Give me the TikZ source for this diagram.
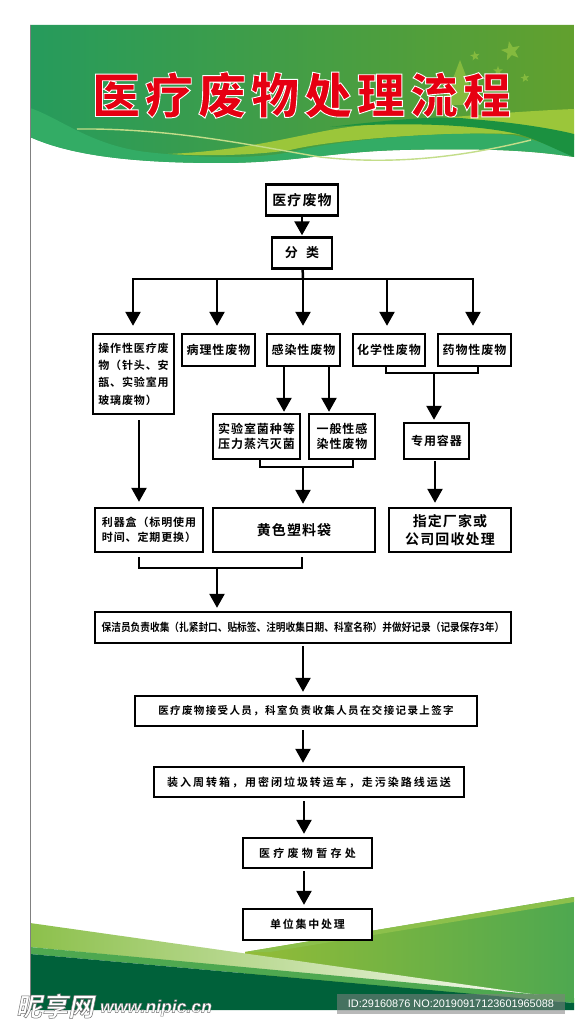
\documentclass[tikz,border=0pt]{standalone}
\usepackage{fontspec}
\usepackage{xcolor}
\setmainfont{Noto Sans CJK SC Bold}
\newfontfamily\titlefont[LetterSpace=10.4]{Noto Sans CJK SC Black}
\newfontfamily\narrowfont[FakeStretch=0.88]{Noto Sans CJK SC Bold}
\newfontfamily\markfont[FakeSlant=0.2]{Noto Sans CJK SC Bold}
\newfontfamily\wwwfont{Liberation Sans Bold Italic}
\newfontfamily\idfont{Liberation Sans}
\definecolor{panelleft}{RGB}{38, 155, 92}
\definecolor{panelright}{RGB}{98, 160, 46}
\definecolor{wavegreen}{RGB}{51, 172, 101}
\definecolor{waveyellow}{RGB}{155, 198, 58}
\definecolor{wavedark}{RGB}{27, 145, 64}
\definecolor{stargreen}{RGB}{132, 186, 62}
\definecolor{titlered}{RGB}{230, 0, 18}
\definecolor{footdark}{RGB}{0, 97, 58}
\definecolor{footmid}{RGB}{78, 168, 80}
\definecolor{footpale}{RGB}{140, 192, 75}
\usepackage{tikz}
\usetikzlibrary{shapes.geometric, arrows.meta, positioning, calc}
\newcommand{\strokedtext}[3]{\special{pdf:code 2 Tr #1 w #2 RG}#3\special{pdf:code 0 Tr}}
\newcommand{\boxtext}[3]{\fontsize{#1}{#2}\selectfont\addfontfeature{LetterSpace=#3}}
\tikzset{
    box/.style={draw, line width=2.4pt, fill=white, inner sep=0pt, align=center},
    flow/.style={draw, line width=2.5pt, -{Triangle[width=15pt,length=14pt]}},
    link/.style={draw, line width=2.5pt},
    thinlink/.style={draw, line width=1.6pt},
    skystar/.style={star, star points=5, star point ratio=2.4, fill=stargreen, inner sep=0pt}
}

\begin{document}
\begin{tikzpicture}[x=1pt, y=-1pt]
    \useasboundingbox (0,0) rectangle (574,1024);
    \fill[white] (0,0) rectangle (574,1024);

    % header band
    \shade[left color=panelleft, right color=panelright] (30,25) -- (574,25) -- (574,157)
        .. controls (530,150) and (480,148) .. (400,150)
        .. controls (330,152) and (290,163) .. (220,163)
        .. controls (130,163) and (70,155) .. (30,137) -- cycle;
    \fill[stargreen] (460,60) -- (477,105) -- (443,105) -- cycle;
    \node[skystar, minimum size=20pt, rotate=12] (star1) at (511,51) {};
    \node[skystar, minimum size=10pt, rotate=8] (star2) at (475,56) {};
    \node[skystar, minimum size=10pt] (star3) at (498,71) {};
    \node[skystar, minimum size=9pt, rotate=8] (star4) at (525,78) {};
    \fill[waveyellow] (168,154) .. controls (260,150) and (310,130) .. (366,125)
        .. controls (420,120) and (500,112) .. (574,109) -- (574,140)
        -- (513,134) .. controls (450,132) and (340,138) .. (290,150)
        .. controls (250,156) and (200,156) .. (168,154) -- cycle;
    \fill[wavegreen] (30,108) .. controls (60,118) and (90,145) .. (146,152)
        .. controls (200,158) and (260,160) .. (300,150)
        .. controls (340,140) and (450,130) .. (513,135)
        .. controls (540,140) and (560,150) .. (574,157)
        .. controls (530,150) and (480,148) .. (400,150)
        .. controls (330,152) and (290,163) .. (220,163)
        .. controls (130,163) and (70,155) .. (30,137) -- cycle;
    \fill[wavedark] (330,127) .. controls (390,120) and (440,115) .. (470,119)
        .. controls (510,122) and (550,128) .. (574,134) -- (574,157)
        .. controls (550,147) and (530,136) .. (513,133)
        .. controls (470,124) and (400,122) .. (330,127) -- cycle;
    \draw[line width=1.4pt, color=waveyellow!60!white] (77,129)
        .. controls (170,128) and (250,145) .. (320,157)
        .. controls (400,166) and (470,155) .. (531,140);
    \node[text=titlered, font=\titlefont\fontsize{48}{48}\selectfont] (title) at (301.5,95)
        {\strokedtext{0.9}{1 1 1}{医疗废物处理流程}};

    % footer wedges
    \shade[left color=waveyellow!95!black, right color=footmid] (245,952) -- (574,897)
        -- (574,1000) -- (245,1000) -- cycle;
    \fill[footpale] (245,952) -- (574,897) -- (574,902) -- (270,952) -- cycle;
    \shade[left color=footpale, right color=white] (30,923) -- (574,1000)
        -- (30,947) -- cycle;
    \fill[footmid] (30,947) -- (574,998) -- (574,1003) -- (30,954) -- cycle;
    \fill[footdark] (30,954) -- (574,1003) -- (574,1010) -- (30,1010) -- cycle;
    \draw[line width=0.8pt, color=gray] (30,25) -- (30,1010);

    % flow boxes
    \node[box, minimum width=72pt, minimum height=31pt, font=\boxtext{14}{14}{8}] (waste) at (302,200) {医疗废物};
    \node[box, minimum width=60pt, minimum height=31pt, font=\boxtext{13}{13}{65}] (sort) at (302,253) {分类};

    \node[box, minimum width=81pt, minimum height=80pt, font=\boxtext{11}{17.3}{8}, align=left] (op) at (133.5,374) {操作性医疗废\\物（针头、安\\瓿、实验室用\\玻璃废物）};
    \node[box, minimum width=73pt, minimum height=32pt, font=\boxtext{12}{12}{8}] (patho) at (218.5,350) {病理性废物};
    \node[box, minimum width=73pt, minimum height=32pt, font=\boxtext{12}{12}{8}] (infect) at (303.5,350) {感染性废物};
    \node[box, minimum width=72pt, minimum height=32pt, font=\boxtext{12}{12}{8}] (chem) at (389,350) {化学性废物};
    \node[box, minimum width=73pt, minimum height=32pt, font=\boxtext{12}{12}{8}] (drug) at (474.5,350) {药物性废物};

    \node[box, minimum width=87pt, minimum height=45pt, font=\boxtext{12}{14.7}{8}] (lab) at (256.5,436.5) {实验室菌种等\\压力蒸汽灭菌};
    \node[box, minimum width=66pt, minimum height=45pt, font=\boxtext{12}{14.7}{8}] (general) at (342,436.5) {一般性感\\染性废物};
    \node[box, minimum width=65pt, minimum height=36pt, font=\boxtext{12}{12}{8}] (vessel) at (436.5,441) {专用容器};

    \node[box, minimum width=108pt, minimum height=44pt, font=\boxtext{11}{15}{8}, align=left] (sharps) at (149,530) {利器盒（标明使用\\时间、定期更换）};
    \node[box, minimum width=162pt, minimum height=44pt, font=\boxtext{14}{14}{8}] (bag) at (294,530) {黄色塑料袋};
    \node[box, minimum width=122pt, minimum height=44pt, font=\boxtext{14}{17.7}{8}] (vendor) at (450,530) {指定厂家或\\公司回收处理};

    \node[box, minimum width=416pt, minimum height=31pt, font=\narrowfont\fontsize{11}{11}\selectfont] (collect) at (303,627.5) {保洁员负责收集（扎紧封口、贴标签、注明收集日期、科室名称）并做好记录（记录保存3年）};
    \node[box, minimum width=342pt, minimum height=30pt, font=\boxtext{10.5}{10.5}{13}] (handover) at (306,711) {医疗废物接受人员，科室负责收集人员在交接记录上签字};
    \node[box, minimum width=310pt, minimum height=30pt, font=\boxtext{11}{11}{18}] (transit) at (309,782) {装入周转箱，用密闭垃圾转运车，走污染路线运送};
    \node[box, minimum width=129pt, minimum height=30pt, font=\boxtext{11}{11}{30}] (store) at (307.5,853) {医疗废物暂存处};
    \node[box, minimum width=129pt, minimum height=31pt, font=\boxtext{11}{11}{16}] (final) at (307.5,924.5) {单位集中处理};

    % connectors
    \draw[flow, shorten >=1pt] (waste) -- (sort);
    \coordinate (busmid) at (303,279);
    \draw[link] (sort) -- (busmid);
    \foreach \xx/\nn in {133/op,217/patho,303/infect,387/chem,473/drug}{
        \coordinate (bus\nn) at (\xx,279);
        \draw[flow, shorten >=7pt] (bus\nn) -- (bus\nn |- \nn.north);
    }
    \draw[link, line cap=rect] (busop) -- (busdrug);

    \coordinate (infectL) at (284,366);
    \coordinate (infectR) at (329,366);
    \draw[flow, shorten >=1pt] (infectL) -- (infectL |- lab.north);
    \draw[flow, shorten >=1pt] (infectR) -- (infectR |- general.north);

    % brackets under the boxes
    \coordinate (chemfoot) at (386,366);
    \coordinate (drugfoot) at (478,366);
    \coordinate (chemjoin) at (434,373);
    \draw[thinlink] (chemfoot) |- (chemjoin) -| (drugfoot);
    \draw[flow, shorten >=2pt] (chemjoin) -- (chemjoin |- vessel.north);

    \coordinate (labfoot) at (260,459);
    \coordinate (generalfoot) at (353,459);
    \coordinate (labjoin) at (303,467);
    \draw[thinlink] (labfoot) |- (labjoin) -| (generalfoot);
    \draw[flow, shorten >=3pt] (labjoin) -- (labjoin |- bag.north);

    \coordinate (opstart) at (139,420);
    \draw[flow, shorten >=5pt] (opstart) -- (opstart |- sharps.north);
    \coordinate (vesselstart) at (435,461);
    \draw[flow, shorten >=4pt] (vesselstart) -- (vesselstart |- vendor.north);

    \coordinate (sharpsfoot) at (139,557);
    \coordinate (bagfoot) at (302,557);
    \coordinate (bothjoin) at (217,568);
    \draw[link] (sharpsfoot) |- (bothjoin) -| (bagfoot);
    \draw[flow, shorten >=3pt] (bothjoin) -- (bothjoin |- collect.north);

    \coordinate (collectfoot) at (303,646);
    \coordinate (handfoot) at (303,730);
    \coordinate (transitfoot) at (304,801);
    \coordinate (storefoot) at (304,871);
    \draw[flow, shorten >=3pt] (collectfoot) -- (collectfoot |- handover.north);
    \draw[flow, shorten >=3pt] (handfoot) -- (handfoot |- transit.north);
    \draw[flow, shorten >=3pt] (transitfoot) -- (transitfoot |- store.north);
    \draw[flow, shorten >=3pt] (storefoot) -- (storefoot |- final.north);

    % site marks
    \node[text=white, font=\markfont\fontsize{26}{26}\selectfont] (marksite) at (55,1006) {\strokedtext{0.5}{0.45 0.45 0.45}{昵享网}};
    \node[text=white, font=\wwwfont\fontsize{17.6}{17.6}\selectfont] (markurl) at (156,1008) {\strokedtext{0.4}{0.45 0.45 0.45}{www.nipic.cn}};
    \node[fill=gray, fill opacity=0.55, text opacity=1, text=white, font=\idfont\fontsize{10.9}{10.9}\selectfont, minimum width=228pt, minimum height=20pt, inner sep=0pt] (markid) at (451,1004) {ID:29160876 NO:20190917123601965088};
\end{tikzpicture}
\end{document}
